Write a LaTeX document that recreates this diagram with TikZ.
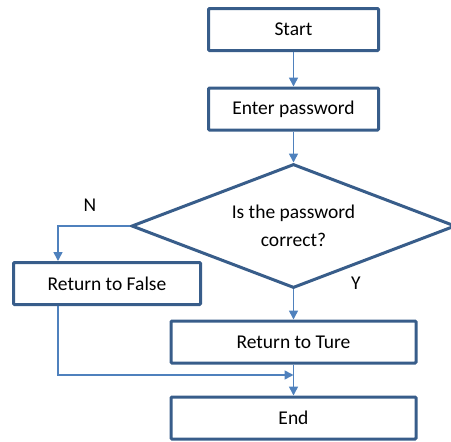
\documentclass[tikz,border=0pt]{standalone}
\usepackage{fontspec}
\setmainfont{Carlito}
\usetikzlibrary{shapes.geometric,arrows.meta}
\definecolor{boxline}{RGB}{56,93,138}
\definecolor{flowline}{RGB}{79,129,189}
\begin{document}
\begin{tikzpicture}
    [x=1pt, y=-1pt,
    font=\fontsize{19.5}{28}\selectfont,
    stepbox/.style={draw=boxline, line width=3pt, rounded corners=1pt,
      minimum height=42pt, inner sep=0pt},
    decision/.style={diamond, draw=boxline, line width=3pt, inner sep=0pt,
      minimum width=324pt, minimum height=124pt, aspect=2.6, align=center},
    flow/.style={draw=flowline, line width=1.6pt,
      -{Triangle[width=9pt,length=9pt]}},
    ]
    \useasboundingbox (0,0) rectangle (451,442);
    \node[stepbox, minimum width=170pt] (start) at (293.5,29.5) {Start};
    \node[stepbox, minimum width=170pt] (enter) at (293.5,109) {Enter password};
    \node[decision] (check) at (293.5,226) {Is the password\\correct?};
    \node[stepbox, minimum width=187pt] (false) at (107,283.5) {Return to False};
    \node[stepbox, minimum width=245pt] (true) at (293.5,342) {Return to Ture};
    \node[stepbox, minimum width=245pt] (end) at (293.5,418) {End};
    \node (n) at (90,205) {N};
    \node (y) at (356,283) {Y};
    \coordinate (merge) at (293.5,375);
    \draw[flow] (start) -- (enter);
    \draw[flow] (enter) -- (check);
    \draw[flow] (check.west) -| ([xshift=46pt]false.north west);
    \draw[flow] (check) -- (true);
    \draw[flow] ([xshift=46pt]false.south west) |- (merge);
    \draw[flow] (true) -- (end);
  \end{tikzpicture}
\end{document}
